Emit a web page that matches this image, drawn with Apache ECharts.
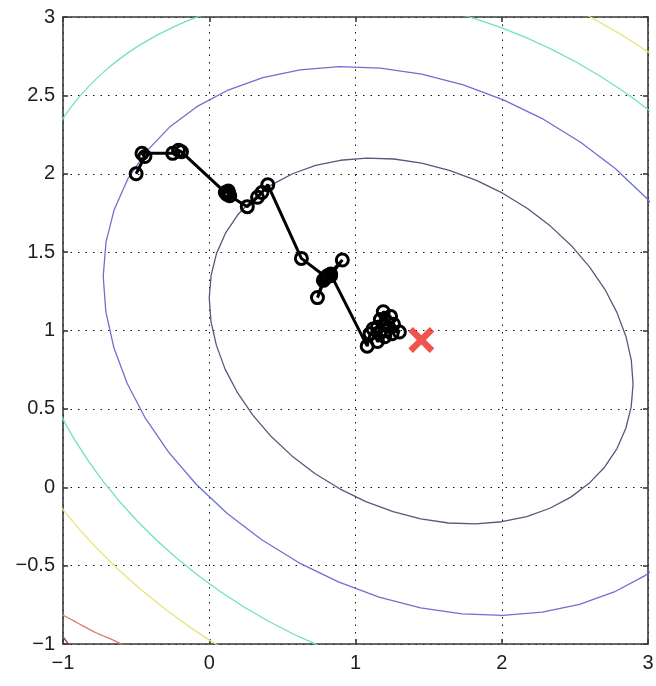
<!DOCTYPE html>
<html><head><meta charset="utf-8">
<script src="https://cdn.jsdelivr.net/npm/echarts@6/dist/echarts.min.js"></script>
<style>html,body{margin:0;padding:0;background:#fff}#c{width:656px;height:686px}</style>
</head><body><div id="c"></div>
<script>
// ---- tick labels ----
const xTickValues = [-1, 0, 1, 2, 3];
const xTickLabels = ['−1', '0', '1', '2', '3'];
const yTickValues = [-1, -0.5, 0, 0.5, 1, 1.5, 2, 2.5, 3];
const yTickLabels = ['−1', '−0.5', '0', '0.5', '1', '1.5', '2', '2.5', '3'];

// ---- contour lines (points read/estimated from the picture) ----
const contourInner = [
  [2.787,0.245],[2.703,0.128],[2.597,0.025],[2.472,-0.063],[2.329,-0.134],[2.171,-0.187],[2.001,-0.220],
  [1.822,-0.234],[1.636,-0.228],[1.446,-0.202],[1.257,-0.156],[1.071,-0.092],[0.892,-0.010],[0.722,0.088],
  [0.565,0.200],[0.422,0.325],[0.298,0.460],[0.193,0.603],[0.109,0.752],[0.049,0.905],[0.012,1.057],
  [0.000,1.208],[0.013,1.353],[0.050,1.492],[0.111,1.621],[0.195,1.738],[0.301,1.842],[0.426,1.929],
  [0.569,2.000],[0.727,2.053],[0.897,2.086],[1.076,2.100],[1.263,2.094],[1.452,2.068],[1.641,2.022],
  [1.827,1.958],[2.006,1.876],[2.176,1.778],[2.333,1.666],[2.476,1.541],[2.600,1.406],[2.705,1.263],
  [2.788,1.114],[2.849,0.962],[2.886,0.809],[2.898,0.658],[2.885,0.513],[2.848,0.375],[2.787,0.245]
];
const contourBlue = [
  [3.329,-0.275],[3.171,-0.430],[2.983,-0.562],[2.769,-0.668],[2.532,-0.747],[2.277,-0.797],[2.008,-0.818],
  [1.729,-0.808],[1.445,-0.769],[1.161,-0.701],[0.883,-0.604],[0.614,-0.482],[0.359,-0.335],[0.123,-0.167],
  [-0.091,0.021],[-0.278,0.224],[-0.436,0.439],[-0.561,0.662],[-0.652,0.890],[-0.707,1.119],[-0.725,1.345],
  [-0.706,1.564],[-0.650,1.771],[-0.558,1.965],[-0.431,2.141],[-0.273,2.296],[-0.085,2.428],[0.129,2.534],
  [0.366,2.613],[0.621,2.663],[0.890,2.684],[1.169,2.674],[1.453,2.635],[1.737,2.567],[2.015,2.470],
  [2.284,2.348],[2.539,2.201],[2.776,2.033],[2.989,1.845],[3.176,1.642],[3.334,1.427]
];
const contourCyanBottom = [
  [1.087,-1.125],[0.735,-1.004],[0.396,-0.850],[0.075,-0.665],[-0.222,-0.453],[-0.491,-0.217],
  [-0.727,0.039],[-0.925,0.310],[-1.083,0.592],[-1.198,0.879]
];
const contourCyanTopLeft = [
  [-1.266,1.727],[-1.195,1.989],[-1.079,2.233],[-0.920,2.455],[-0.721,2.650],[-0.484,2.816],
  [-0.214,2.950],[0.084,3.050],[0.405,3.113]
];
const contourCyanTopRight = [
  [1.096,3.127],[1.454,3.077],[1.811,2.991],[2.163,2.870],[2.502,2.716],[2.823,2.531],[3.120,2.319],[3.389,2.083]
];
const contourYellowTop = [
  [1.864,3.291],[2.266,3.152],[2.655,2.975],[3.023,2.763],[3.364,2.520]
];
const contourYellowBottom = [
  [0.631,-1.286],[0.243,-1.109],[-0.125,-0.897],[-0.466,-0.654],[-0.774,-0.384],[-1.044,-0.091],[-1.271,0.219]
];
const contourRed = [
  [-1.09,-0.76],[-1.00,-0.815],[-0.90,-0.866],[-0.77,-0.93],[-0.66,-0.974],[-0.51,-1.04]
];
const contourDarkRed = [
  [-1.055,-0.91],[-1.00,-0.955],[-0.94,-1.03]
];

// ---- descent path ----
const pathPoints = [
  [-0.50,2.00],[-0.44,2.11],[-0.46,2.13],[-0.25,2.13],[-0.21,2.15],[-0.19,2.14],
  [0.11,1.88],[0.13,1.89],[0.14,1.86],[0.12,1.87],[0.13,1.88],[0.26,1.79],[0.33,1.85],[0.36,1.88],[0.40,1.93],
  [0.63,1.46],[0.80,1.34],[0.91,1.45],[0.83,1.35],[0.79,1.33],[0.74,1.21],[0.78,1.32],[0.81,1.35],[0.83,1.36],
  [1.08,0.90],[1.10,0.98],[1.15,1.02],[1.19,1.12],[1.24,1.09],[1.17,1.07],[1.26,1.04],[1.30,0.99],
  [1.21,1.00],[1.20,0.96],[1.15,0.93],[1.12,1.01],[1.22,1.05],[1.25,0.98]
];
const optimum = [[1.45, 0.94]];

function lab(values, labels) {
  return function (v) {
    for (let i = 0; i < values.length; i++) if (Math.abs(values[i] - v) < 1e-9) return labels[i];
    return '';
  };
}

function contour(data, color, smooth) {
  return {
    type: 'line', data: data, showSymbol: false, symbol: 'none', smooth: smooth || false,
    silent: true, clip: true, z: 2,
    lineStyle: { color: color, width: 1.3, join: 'round' }
  };
}

const axisLineStyle = { color: '#3a3a3a', width: 1.6 };
const font = { fontFamily: 'Liberation Sans, Arial, sans-serif', fontSize: 20, color: '#1e1e1e' };

const chart = echarts.init(document.getElementById('c'), null, { renderer: 'canvas' });
chart.setOption({
  animation: false,
  backgroundColor: '#fff',
  grid: { left: 63, right: 8, top: 17, bottom: 42, containLabel: false, outerBoundsMode: 'none' },
  xAxis: [
    { type: 'value', min: -1, max: 3, interval: 1, position: 'bottom',
      axisLine: { show: true, onZero: false, lineStyle: axisLineStyle },
      axisTick: { show: true, inside: true, length: 5, lineStyle: axisLineStyle },
      axisLabel: Object.assign({ margin: 9, formatter: lab(xTickValues, xTickLabels) }, font),
      splitLine: { show: true, lineStyle: { color: '#111', width: 1, type: [1.5, 6] } } },
    { type: 'value', min: -1, max: 3, interval: 1, position: 'top',
      axisLine: { show: true, onZero: false, lineStyle: axisLineStyle },
      axisTick: { show: true, inside: true, length: 5, lineStyle: axisLineStyle },
      axisLabel: { show: false }, splitLine: { show: false } }
  ],
  yAxis: [
    { type: 'value', min: -1, max: 3, interval: 0.5, position: 'left',
      axisLine: { show: true, onZero: false, lineStyle: axisLineStyle },
      axisTick: { show: true, inside: true, length: 5, lineStyle: axisLineStyle },
      axisLabel: Object.assign({ margin: 8, formatter: lab(yTickValues, yTickLabels) }, font),
      splitLine: { show: true, lineStyle: { color: '#111', width: 1, type: [1.5, 6] } } },
    { type: 'value', min: -1, max: 3, interval: 0.5, position: 'right',
      axisLine: { show: true, onZero: false, lineStyle: axisLineStyle },
      axisTick: { show: true, inside: true, length: 5, lineStyle: axisLineStyle },
      axisLabel: { show: false }, splitLine: { show: false } }
  ],
  series: [
    contour(contourDarkRed, '#8a4040', 0.3),
    contour(contourRed, '#d77a72', 0.3),
    contour(contourYellowTop, '#e6e67a', 0.3),
    contour(contourYellowBottom, '#e6e67a', 0.3),
    contour(contourCyanBottom, '#72e0c4', 0.3),
    contour(contourCyanTopLeft, '#72e0c4', 0.3),
    contour(contourCyanTopRight, '#72e0c4', 0.3),
    contour(contourBlue, '#6f6fd2'),
    contour(contourInner, '#58587a'),
    {
      type: 'line', data: pathPoints, z: 5, silent: true,
      symbol: 'circle', symbolSize: 12, showSymbol: true,
      lineStyle: { color: '#000', width: 3 },
      itemStyle: { color: 'rgba(255,255,255,0)', borderColor: '#000', borderWidth: 3 }
    },
    {
      type: 'scatter', data: optimum, z: 6, silent: true,
      symbol: 'path://M0,3.5 L3.5,0 L10,6.5 L16.5,0 L20,3.5 L13.5,10 L20,16.5 L16.5,20 L10,13.5 L3.5,20 L0,16.5 L6.5,10 Z',
      symbolSize: 26,
      itemStyle: { color: '#ea2a22' }
    }
  ]
});
</script>
</body></html>
